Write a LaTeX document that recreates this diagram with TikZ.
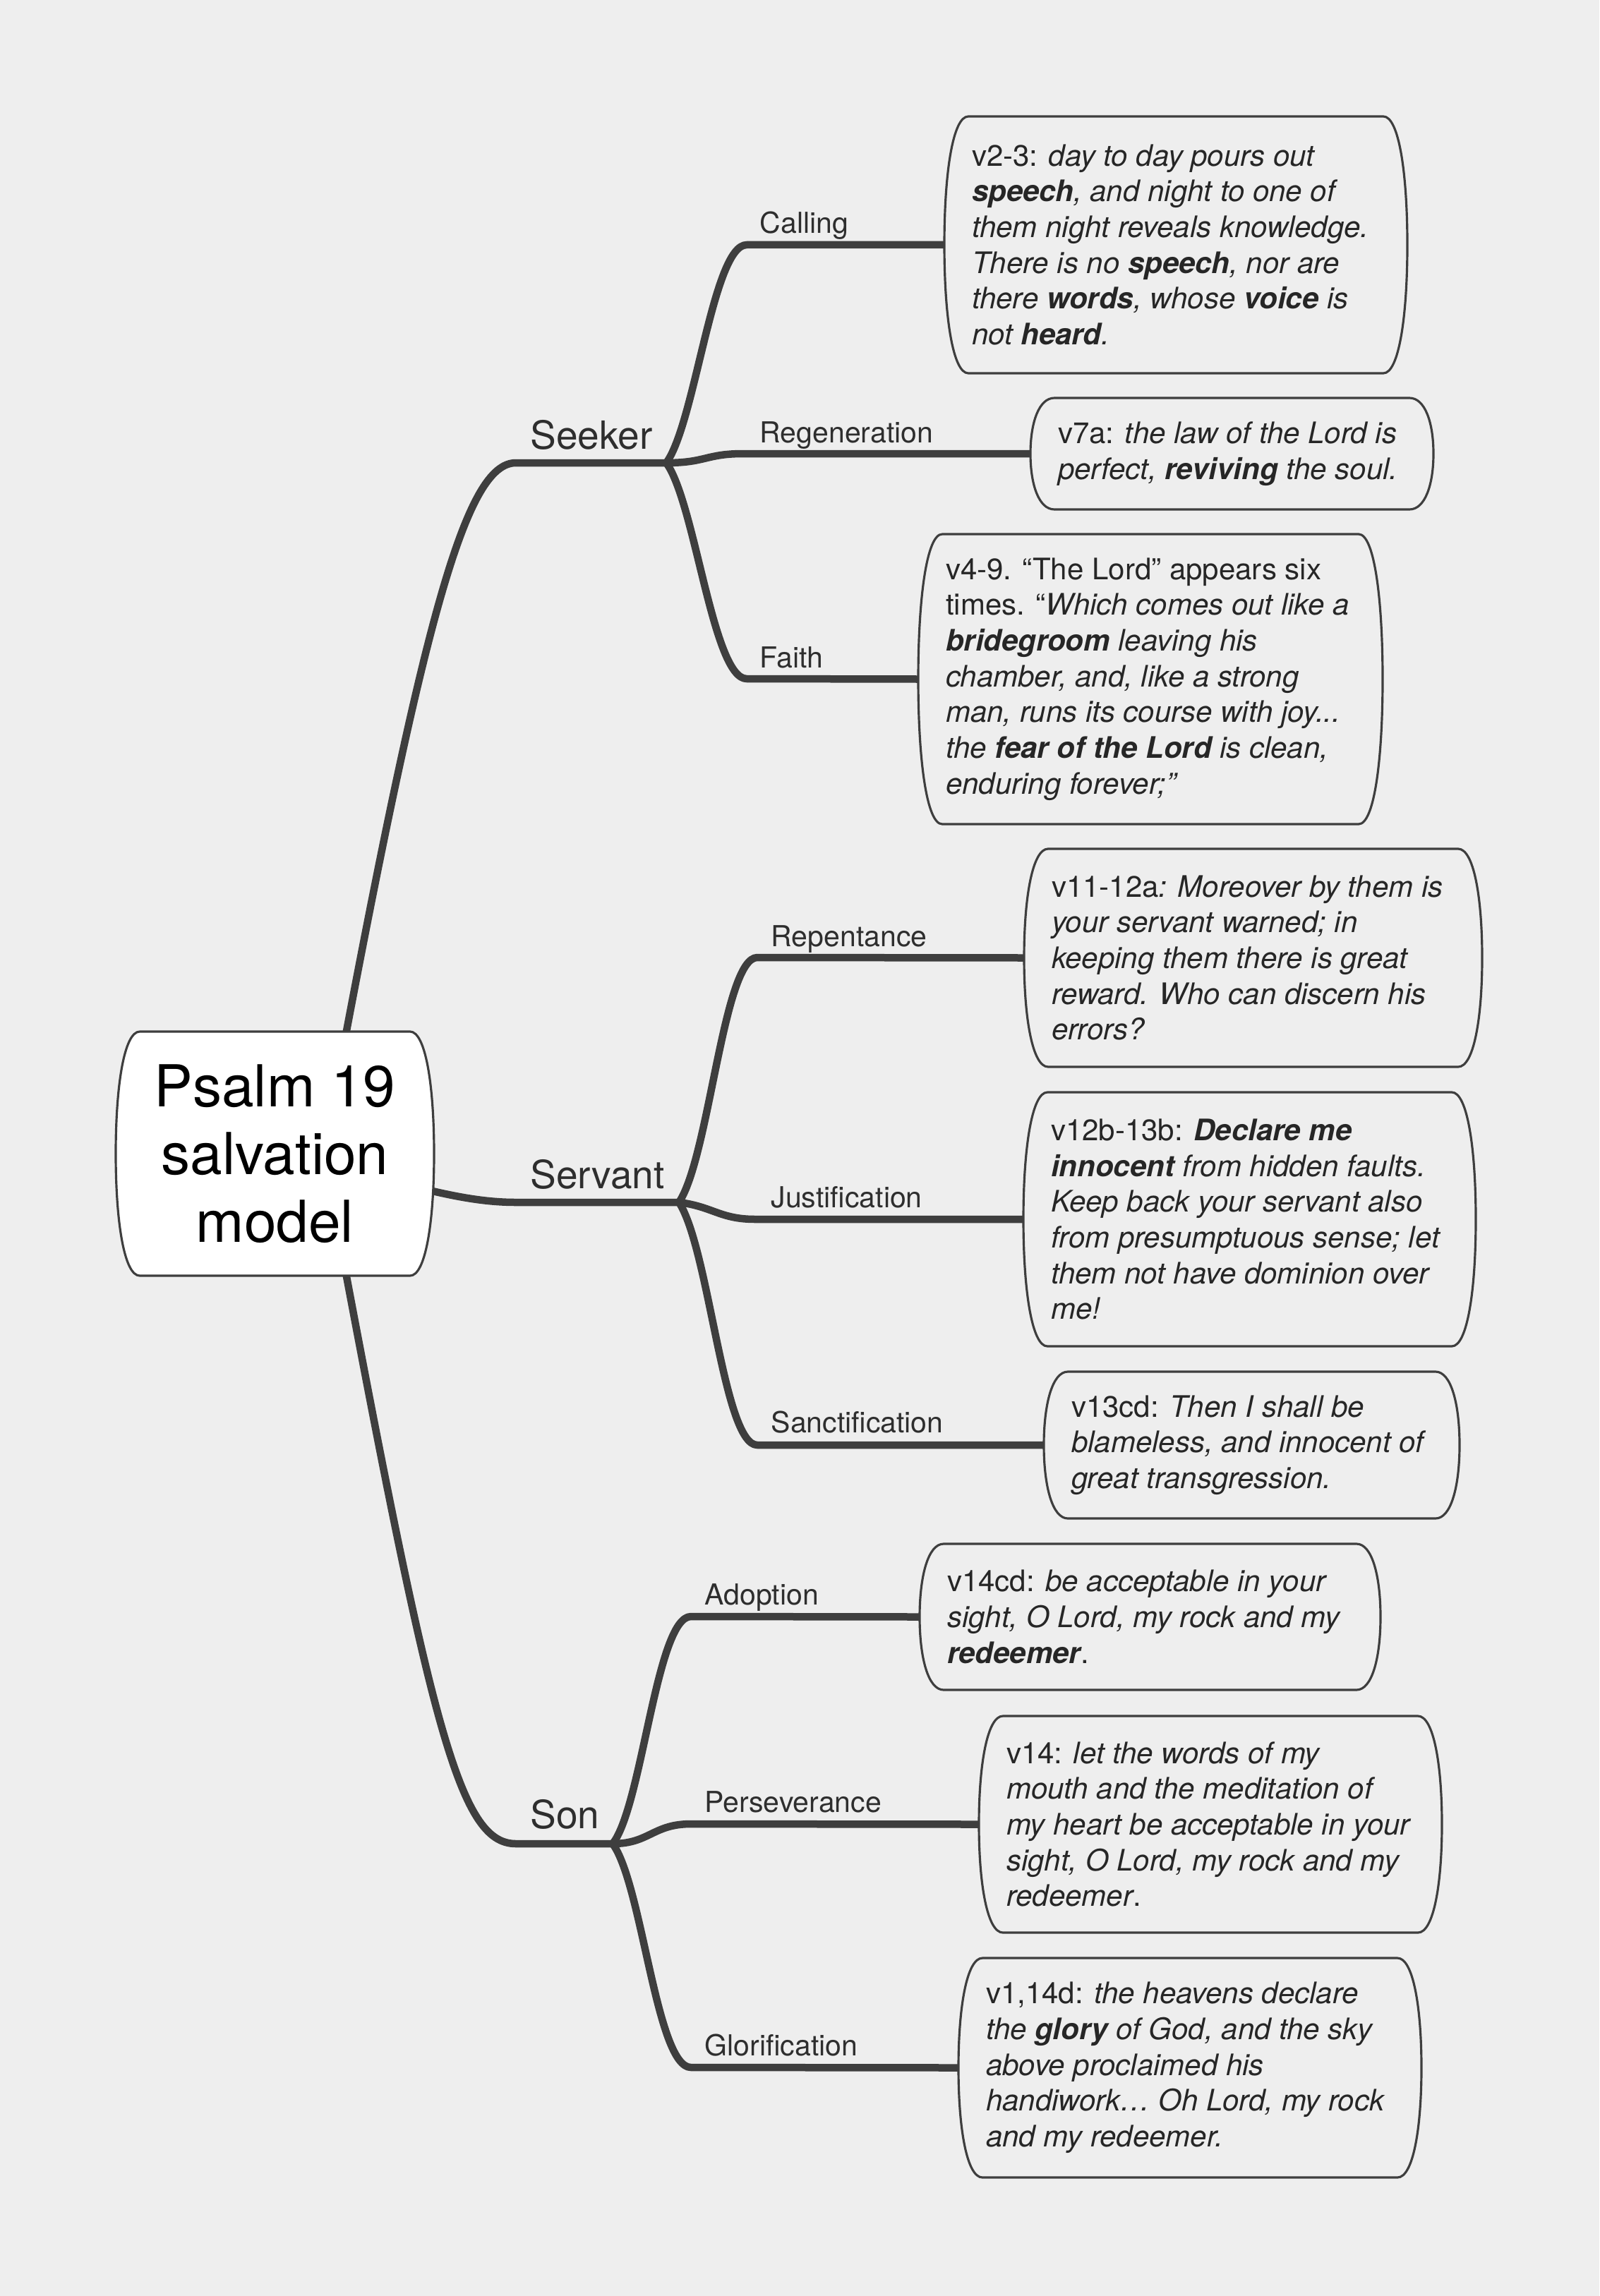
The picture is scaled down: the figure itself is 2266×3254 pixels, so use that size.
\documentclass[tikz,border=0pt]{standalone}
\usepackage{fontspec}
\setmainfont{TeX Gyre Heros}
\usetikzlibrary{calc}
\pgfdeclarelayer{bgl}
\pgfdeclarelayer{lines}
\pgfsetlayers{bgl,lines,main}
\definecolor{bgc}{HTML}{EEEEEE}
\definecolor{lnc}{HTML}{3E3E3E}
\definecolor{txc}{HTML}{262626}
\definecolor{lbc}{HTML}{2E2E2E}
% #1 name, #2 x0, #3 y0, #4 x1, #5 y1, #6 fill
\newcommand\bowbox[6]{%
  \pgfmathsetmacro\bym{(#3+#5)/2}%
  \pgfmathsetmacro\bxm{(#2+#4)/2}%
  \pgfmathsetmacro\bk{0.22*(#5-#3)}%
  \pgfmathsetmacro\bw{(#4-#2)*0.3}%
  \pgfmathsetmacro\bh{(#5-#3)*0.3}%
  \path[boxline, fill=#6] (#2+34,#3) -- (#4-34,#3)
    .. controls (#4-12,#3) and (#4,#3+\bk) .. (#4,\bym)
    .. controls (#4,#5-\bk) and (#4-12,#5) .. (#4-34,#5)
    -- (#2+34,#5)
    .. controls (#2+12,#5) and (#2,#5-\bk) .. (#2,\bym)
    .. controls (#2,#3+\bk) and (#2+12,#3) .. cycle;
  \node[boxarea, minimum width=\bw pt, minimum height=\bh pt] (#1) at (\bxm,\bym) {};
}
\begin{document}
\begin{tikzpicture}[x=0.3pt,y=-0.3pt,
  conn/.style={draw=lnc, line width=3.15pt, line cap=round, line join=round},
  boxline/.style={draw=lnc, line width=0.95pt},
  boxarea/.style={inner sep=0pt, draw=none, rectangle},
  vtext/.style={anchor=west, align=left, inner sep=0pt, text=txc, font=\fontsize{12.6}{15.2}\selectfont},
  ctext/.style={align=center, inner sep=0pt, text=black, font=\fontsize{24.6}{28.8}\selectfont},
  sublabel/.style={anchor=base west, inner sep=0pt, text=lbc, font=\fontsize{12.3}{14.8}\selectfont},
  brlabel/.style={anchor=base west, inner sep=0pt, text=lbc, font=\fontsize{16.5}{19.8}\selectfont}]
\useasboundingbox (0,0) rectangle (2266,3254);
\begin{pgfonlayer}{bgl}
  \fill[bgc] (0,0) rectangle (2266,3254);
\end{pgfonlayer}

% central topic
\bowbox{ctr}{164}{1462}{615}{1808}{white}
\node[ctext] (ctrtext) at (ctr) {Psalm 19\\salvation\\model};

% verse boxes
\bowbox{calling}{1338}{165}{1994}{529}{bgc}
\node[vtext] (callingT) at ($(calling.west)+(39,0)$) {v2-3: \textit{day to day pours out}\\
\textit{\textbf{speech}, and night to one of}\\
\textit{them night reveals knowledge.}\\
\textit{There is no \textbf{speech}, nor are}\\
\textit{there \textbf{words}, whose \textbf{voice} is}\\
\textit{not \textbf{heard}.}};

\bowbox{regen}{1460}{564}{2031}{722}{bgc}
\node[vtext] (regenT) at ($(regen.west)+(39,0)$) {v7a: \textit{the law of the Lord is}\\
\textit{perfect, \textbf{reviving} the soul.}};

\bowbox{faith}{1301}{757}{1959}{1168}{bgc}
\node[vtext] (faithT) at ($(faith.west)+(39,0)$) {v4-9. “The Lord” appears six\\
times. “\textit{Which comes out like a}\\
\textit{\textbf{bridegroom} leaving his}\\
\textit{chamber, and, like a strong}\\
\textit{man, runs its course with joy...}\\
\textit{the \textbf{fear of the Lord} is clean,}\\
\textit{enduring forever;”}};

\bowbox{repent}{1451}{1203}{2100}{1512}{bgc}
\node[vtext] (repentT) at ($(repent.west)+(39,0)$) {v11-12a\textit{: Moreover by them is}\\
\textit{your servant warned; in}\\
\textit{keeping them there is great}\\
\textit{reward. Who can discern his}\\
\textit{errors?}};

\bowbox{justif}{1450}{1548}{2091}{1908}{bgc}
\node[vtext] (justifT) at ($(justif.west)+(39,0)$) {v12b-13b: \textit{\textbf{Declare me}}\\
\textit{\textbf{innocent} from hidden faults.}\\
\textit{Keep back your servant also}\\
\textit{from presumptuous sense; let}\\
\textit{them not have dominion over}\\
\textit{me!}};

\bowbox{sanct}{1479}{1944}{2068}{2152}{bgc}
\node[vtext] (sanctT) at ($(sanct.west)+(39,0)$) {v13cd: \textit{Then I shall be}\\
\textit{blameless, and innocent of}\\
\textit{great transgression.}};

\bowbox{adopt}{1303}{2188}{1956}{2395}{bgc}
\node[vtext] (adoptT) at ($(adopt.west)+(39,0)$) {v14cd: \textit{be acceptable in your}\\
\textit{sight, O Lord, my rock and my}\\
\textit{\textbf{redeemer}}.};

\bowbox{persev}{1387}{2432}{2043}{2739}{bgc}
\node[vtext] (persevT) at ($(persev.west)+(39,0)$) {v14: \textit{let the words of my}\\
\textit{mouth and the meditation of}\\
\textit{my heart be acceptable in your}\\
\textit{sight, O Lord, my rock and my}\\
\textit{redeemer}.};

\bowbox{glor}{1358}{2775}{2014}{3086}{bgc}
\node[vtext] (glorT) at ($(glor.west)+(39,0)$) {v1,14d: \textit{the heavens declare}\\
\textit{the \textbf{glory} of God, and the sky}\\
\textit{above proclaimed his}\\
\textit{handiwork… Oh Lord, my rock}\\
\textit{and my redeemer.}};

% branch labels
\node[brlabel] (seeker) at (751,637) {Seeker};
\node[brlabel] (servant) at (751,1684) {Servant};
\node[brlabel] (son) at (751,2591) {Son};
\node[sublabel] (callingL) at (1076,331) {Calling};
\node[sublabel] (regenL) at (1076,627) {Regeneration};
\node[sublabel] (faithL) at (1076,946) {Faith};
\node[sublabel] (repentL) at (1092,1341) {Repentance};
\node[sublabel] (justifL) at (1092,1711) {Justification};
\node[sublabel] (sanctL) at (1092,2030) {Sanctification};
\node[sublabel] (adoptL) at (998,2274) {Adoption};
\node[sublabel] (persevL) at (998,2568) {Perseverance};
\node[sublabel] (glorL) at (998,2913) {Glorification};

% junction coordinates
\coordinate (ctrUp) at (465,1600);
\coordinate (ctrDown) at (465,1670);
\coordinate (seekerS) at (731,656);
\coordinate (seekerJ) at (944,656);
\coordinate (servantS) at (731,1704);
\coordinate (servantJ) at (962,1704);
\coordinate (sonS) at (731,2613);
\coordinate (sonJ) at (868,2613);

\begin{pgfonlayer}{lines}
  \draw[conn] (ctrUp) .. controls (600,870) and (660,656) .. (seekerS) -- (seekerJ);
  \draw[conn] (ctr.center) .. controls (560,1670) and (640,1704) .. (servantS) -- (servantJ);
  \draw[conn] (ctrDown) .. controls (610,2450) and (650,2613) .. (sonS) -- (sonJ);

  \draw[conn] (seekerJ) .. controls (985,600) and (1010,347) .. (1058,347) -- (calling.west);
  \draw[conn] (seekerJ) .. controls (1000,656) and (1000,643) .. (1053,643) -- (regen.west);
  \draw[conn] (seekerJ) .. controls (985,712) and (1010,962) .. (1058,962) -- (faith.west);

  \draw[conn] (servantJ) .. controls (1005,1640) and (1025,1357) .. (1073,1357) -- (repent.west);
  \draw[conn] (servantJ) .. controls (1010,1710) and (1020,1728) .. (1070,1728) -- (justif.west);
  \draw[conn] (servantJ) .. controls (1005,1770) and (1025,2048) .. (1073,2048) -- (sanct.west);

  \draw[conn] (sonJ) .. controls (910,2560) and (930,2291) .. (979,2291) -- (adopt.west);
  \draw[conn] (sonJ) .. controls (920,2613) and (925,2585) .. (979,2585) -- (persev.west);
  \draw[conn] (sonJ) .. controls (910,2670) and (930,2930) .. (979,2930) -- (glor.west);
\end{pgfonlayer}
\end{tikzpicture}
\end{document}
